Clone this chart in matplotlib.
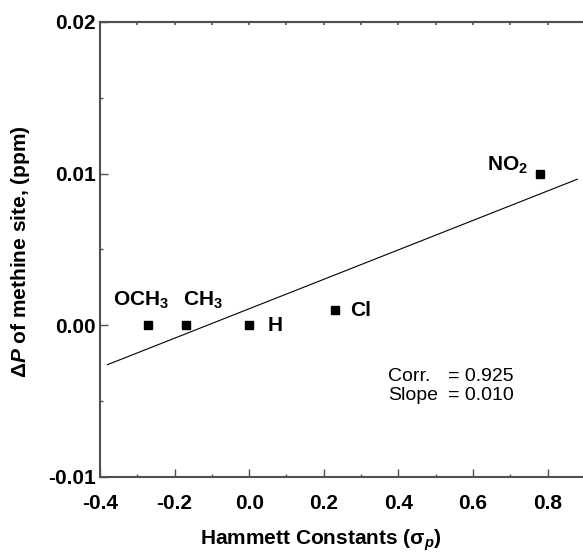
import numpy as np
import matplotlib
matplotlib.use("Agg")
import matplotlib.pyplot as plt
from matplotlib.ticker import MultipleLocator, FixedLocator

plt.rcParams['font.family'] = ['Liberation Sans', 'DejaVu Sans']
plt.rcParams['mathtext.fontset'] = 'custom'
plt.rcParams['mathtext.rm'] = 'Liberation Sans'
plt.rcParams['mathtext.it'] = 'Liberation Sans:italic:bold'
plt.rcParams['mathtext.bf'] = 'Liberation Sans:bold'

# Data
substituents = [r"OCH$_\mathbf{3}$", r"CH$_\mathbf{3}$", "H", "Cl", r"NO$_\mathbf{2}$"]
sigma_p = [-0.27, -0.17, 0.00, 0.23, 0.78]
delta_p = [0.000, 0.000, 0.000, 0.001, 0.010]
x_ticks = [-0.4, -0.2, 0.0, 0.2, 0.4, 0.6, 0.8]
x_tick_labels = ["-0.4", "-0.2", "0.0", "0.2", "0.4", "0.6", "0.8"]
y_ticks = [-0.01, 0.00, 0.01, 0.02]
y_tick_labels = ["-0.01", "0.00", "0.01", "0.02"]
corr_text = "= 0.925"
slope_text = "= 0.010"
fit_range = [-0.38, 0.88]

spine_c = "#505050"
PX = 0.72  # points per pixel at dpi 100

fig = plt.figure(figsize=(5.83, 5.52), dpi=100)
ax = fig.add_axes([100/583, 1-477/552, 1-100/583, (477-22)/552])

ax.plot(sigma_p, delta_p, 's', color='black', markersize=5.2, zorder=3)

coef = np.polyfit(sigma_p, delta_p, 1)
xf = np.array(fit_range)
ax.plot(xf, np.polyval(coef, xf), color='black', lw=0.8)

ax.set_xlim(-0.4, 0.895)
ax.set_ylim(-0.01, 0.02)

ax.xaxis.set_major_locator(FixedLocator(x_ticks))
ax.set_xticklabels(x_tick_labels)
ax.xaxis.set_minor_locator(MultipleLocator(0.1))
ax.yaxis.set_major_locator(FixedLocator(y_ticks))
ax.set_yticklabels(y_tick_labels)
ax.yaxis.set_minor_locator(MultipleLocator(0.005))

for s in ['left', 'bottom', 'top']:
    ax.spines[s].set_color(spine_c)
    ax.spines[s].set_linewidth(1.5)
ax.spines['right'].set_visible(False)

ax.tick_params(which='major', direction='in', length=6, width=1.0, color=spine_c,
               labelsize=15, top=False, right=False)
ax.tick_params(which='minor', direction='in', length=2.5, width=1.0, color=spine_c,
               top=False, right=False)
ax.tick_params(axis='x', which='major', pad=12)
ax.tick_params(axis='y', which='major', pad=3)
for lab in ax.get_xticklabels() + ax.get_yticklabels():
    lab.set_fontweight('bold')

sec = ax.secondary_xaxis('top')
sec.xaxis.set_major_locator(MultipleLocator(0.1))
sec.tick_params(direction='in', length=2, width=1.2, color=spine_c, labeltop=False)
sec.spines['top'].set_color(spine_c)
sec.spines['top'].set_linewidth(1.5)

# Labels for points (offsets in pixels -> points)
offsets = [(-35, 20, 'left'),
           (-3, 20, 'left'),
           (18, -5.5, 'left'),
           (15, -6, 'left'),
           (-12, 3, 'right')]
for name, x, y, (dx, dy, ha) in zip(substituents, sigma_p, delta_p, offsets):
    ax.annotate(name, (x, y), xytext=(dx*PX, dy*PX), textcoords='offset points',
                ha=ha, va='baseline', fontsize=15, fontweight='bold')

ax.text(0.372, -0.00368, "Corr.", fontsize=14, ha='left', va='baseline')
ax.text(0.532, -0.00368, corr_text, fontsize=14, ha='left', va='baseline')
ax.text(0.372, -0.0049, "Slope", fontsize=14, ha='left', va='baseline')
ax.text(0.532, -0.0049, slope_text, fontsize=14, ha='left', va='baseline')

fig.text(321/583, 1-540/552, r"Hammett Constants ($\mathbf{\sigma}_{\mathit{p}}$)",
         ha='center', va='center', fontsize=15, fontweight='bold')
fig.text(21/583, 1-252/552, r"$\mathbf{\Delta}\mathit{P}$ of methine site, (ppm)",
         ha='center', va='center', rotation=90, fontsize=15, fontweight='bold')

fig.savefig("out.png", dpi=100)
